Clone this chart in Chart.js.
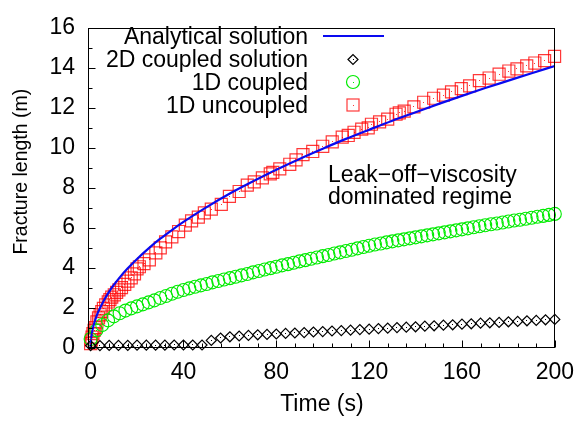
<!DOCTYPE html>
<html><head><meta charset="utf-8">
<script src="https://cdn.jsdelivr.net/npm/chart.js@4.4.0/dist/chart.umd.min.js"></script>
<style>html,body{margin:0;padding:0;background:#fff;overflow:hidden}canvas{display:block}</style>
</head><body>
<canvas id="c" width="585" height="422"></canvas>
<script>
// ---- data ----
const analyticalTime = [0,0.25,0.5,1,2,3,4,6,8,10,13,16,20,25,30,35,40,50,60,70,80,90,100,110,120,130,140,150,160,170,180,190,200];
const analyticalLength = [0,0.50,0.70,1.00,1.41,1.73,1.99,2.44,2.82,3.15,3.59,3.98,4.45,4.98,5.46,5.89,6.30,7.04,7.72,8.33,8.91,9.45,9.96,10.45,10.91,11.36,11.78,12.20,12.60,12.99,13.36,13.73,14.09];

const coupled2DTime = [0,4,8,12,16,20,24,28,32,36,40,44,48,52,56,60,64,68,72,76,80,84,88,92,96,100,104,108,112,116,120,124,128,132,136,140,144,148,152,156,160,164,168,172,176,180,184,188,192,196,200];
const coupled2DLength = [0.12,0.12,0.13,0.13,0.13,0.14,0.14,0.14,0.14,0.15,0.15,0.15,0.15,
  0.38,0.50,0.56,0.60,0.63,0.66,0.68,0.70,0.73,0.75,0.77,0.80,0.82,0.85,0.87,0.89,0.92,0.94,0.97,0.99,1.02,1.04,1.06,1.09,1.11,1.14,1.16,1.19,1.21,1.24,1.26,1.28,1.31,1.33,1.36,1.38,1.41,1.43];

const coupled1DTime = [0,2.5,5,7.5,10,12.5,15,17.5,20,22.5,25,27.5,30,32.5,35,37.5,40,42.5,45,47.5,50,52.5,55,57.5,60,62.5,65,67.5,70,72.5,75,77.5,80,82.5,85,87.5,90,92.5,95,97.5,100,102.5,105,107.5,110,112.5,115,117.5,120,122.5,125,127.5,130,132.5,135,137.5,140,142.5,145,147.5,150,152.5,155,157.5,160,162.5,165,167.5,170,172.5,175,177.5,180,182.5,185,187.5,190,192.5,195,197.5,200];
const coupled1DLength = [0.45,0.88,1.15,1.38,1.58,1.74,1.87,1.98,2.08,2.18,
  2.28,2.38,2.50,2.60,2.71,2.81,2.90,2.98,3.06,3.13,
  3.20,3.28,3.35,3.42,3.49,3.56,3.63,3.70,3.78,3.85,
  3.92,3.99,4.06,4.13,4.19,4.26,4.33,4.39,4.46,4.52,
  4.59,4.65,4.72,4.78,4.85,4.91,4.98,5.05,5.11,5.17,
  5.22,5.28,5.33,5.38,5.43,5.48,5.53,5.58,5.63,5.68,
  5.73,5.78,5.83,5.88,5.93,5.98,6.03,6.08,6.13,6.18,
  6.22,6.27,6.32,6.37,6.41,6.46,6.51,6.56,6.60,6.65,6.70];

const uncoupled1DTime = [0,0.3,0.6,1.0,1.5,2.0,2.7,3.4,4.1,4.8,5.5,6.5,7.6,8.3,9.1,10.2,11.2,12.2,13.3,14.7,16.1,17.5,18.9,20.0,21.0,23.0,25.3,28.1,30.0,32.3,35.0,37.9,40.8,43.5,46.4,49.0,52.0,56.3,59.8,64.0,67.5,70.5,74.0,77.4,78.5,81.5,85.8,88.5,91.5,95.7,100.0,104.1,108.4,111.0,113.5,116.8,119.6,121.0,124.5,128.0,131.6,133.0,135.1,139.3,143.5,147.8,152.0,155.5,159.7,163.3,167.5,171.7,176.0,180.2,183.7,187.9,191.4,195.6,199.9];
const uncoupled1DLength = [0.22,0.40,0.54,0.72,0.88,1.02,1.30,1.50,1.66,1.82,1.98,2.15,2.30,2.42,2.54,2.66,2.78,2.90,3.02,3.18,3.34,3.50,3.70,3.95,4.06,4.22,4.40,4.75,5.00,5.30,5.55,5.82,6.14,6.35,6.54,6.75,6.94,7.18,7.58,7.82,8.14,8.30,8.50,8.70,8.78,8.95,9.18,9.40,9.66,9.82,10.08,10.30,10.54,10.62,10.78,10.94,11.00,11.18,11.30,11.44,11.68,11.75,11.84,12.05,12.28,12.48,12.64,12.80,12.96,13.10,13.36,13.49,13.68,13.84,13.95,14.10,14.24,14.36,14.57];

const seriesLabels = ['Analytical solution','2D coupled solution','1D coupled','1D uncoupled'];
const annotationLines = ['Leak\u2212off\u2212viscosity','dominated regime'];
const xTickValues = [0,40,80,120,160,200];
const yTickValues = [0,2,4,6,8,10,12,14,16];
const xMinorStep = 8;
const yMinorStep = 1;
const xTitle = 'Time (s)';
const yTitle = 'Fracture length (m)';

// ---- chart ----
const FONT = "'Liberation Sans', Arial, Helvetica, sans-serif";
const FS = 23;
const COL_BLUE = '#0a0af0';
const COL_BLACK = '#000000';
const COL_GREEN = 'rgb(0,235,0)';
const COL_RED = 'rgba(255,0,0,0.78)';

function pts(t, v){ const n=Math.min(t.length,v.length); const o=[]; for(let i=0;i<n;i++) o.push({x:t[i],y:v[i]}); return o; }

const decor = {
  id:'decor',
  afterDatasetsDraw(chart){
    const ctx = chart.ctx, a = chart.chartArea;
    const xs = chart.scales.x, ys = chart.scales.y;
    ctx.save();
    chart.data.datasets.forEach((ds,i)=>{
      if(!ds.dotColor) return;
      ctx.fillStyle = ds.dotColor;
      chart.getDatasetMeta(i).data.forEach(el=>{ ctx.fillRect(Math.floor(el.x), Math.floor(el.y), 1, 1); });
    });
    ctx.strokeStyle = '#000'; ctx.lineWidth = 1;
    const L = Math.round(a.left)-0.5, R = Math.round(a.right)-0.5, T = Math.round(a.top)+0.5, B = Math.round(a.bottom)-0.5;
    ctx.strokeRect(L, T, R-L, B-T);
    ctx.beginPath();
    for(let v=0; v<=xs.max+1e-9; v+=xMinorStep){
      const px = Math.round(xs.getPixelForValue(v))+0.5;
      const len = xTickValues.includes(v) ? 7 : 4;
      ctx.moveTo(px,B); ctx.lineTo(px,B-len);
    }
    for(let v=0; v<=ys.max+1e-9; v+=yMinorStep){
      const py = Math.round(ys.getPixelForValue(v))+0.5;
      const len = yTickValues.includes(v) ? 7 : 4;
      ctx.moveTo(L,py); ctx.lineTo(L+len,py);
    }
    ctx.stroke();
    ctx.font = FS + 'px ' + FONT; ctx.fillStyle = '#000'; ctx.textAlign = 'right'; ctx.textBaseline = 'alphabetic';
    const baseY = [43.5, 66.5, 89.5, 112.5];
    seriesLabels.forEach((s,i)=>ctx.fillText(s, 308, baseY[i]));
    const sx = 353;
    ctx.strokeStyle = COL_BLUE; ctx.lineWidth = 2.2;
    ctx.beginPath(); ctx.moveTo(323, 36); ctx.lineTo(384, 36); ctx.stroke();
    ctx.strokeStyle = COL_BLACK; ctx.lineWidth = 1.2;
    ctx.beginPath(); const dy=59.5; ctx.moveTo(sx-5,dy); ctx.lineTo(sx,dy-5); ctx.lineTo(sx+5,dy); ctx.lineTo(sx,dy+5); ctx.closePath(); ctx.stroke();
    ctx.fillStyle = COL_BLACK; ctx.fillRect(sx, Math.floor(dy), 1, 1);
    ctx.strokeStyle = COL_GREEN; ctx.lineWidth = 1.2;
    ctx.beginPath(); ctx.arc(sx, 82, 6.5, 0, Math.PI*2); ctx.stroke();
    ctx.fillStyle = COL_GREEN; ctx.fillRect(sx, 82, 1, 1);
    ctx.strokeStyle = COL_RED; ctx.lineWidth = 1.2;
    ctx.strokeRect(sx-6, 105-6, 12, 12);
    ctx.fillStyle = COL_RED; ctx.fillRect(sx, 105, 1, 1);
    ctx.fillStyle = '#000'; ctx.textAlign = 'left';
    ctx.fillText(annotationLines[0], 328, 181.5);
    ctx.fillText(annotationLines[1], 328, 203.5);
    ctx.restore();
  }
};

new Chart(document.getElementById('c'), {
  type: 'scatter',
  data: { datasets: [
    { label: seriesLabels[0], data: pts(analyticalTime, analyticalLength), showLine: true, borderColor: COL_BLUE, borderWidth: 2.2, pointRadius: 0, cubicInterpolationMode: 'monotone', clip: false },
    { label: seriesLabels[1], data: pts(coupled2DTime, coupled2DLength), pointStyle: 'rectRot', pointRadius: 5, borderColor: COL_BLACK, backgroundColor: 'rgba(0,0,0,0)', borderWidth: 1.2, dotColor: COL_BLACK, clip: false },
    { label: seriesLabels[2], data: pts(coupled1DTime, coupled1DLength), pointStyle: 'circle', pointRadius: 6.5, borderColor: COL_GREEN, backgroundColor: 'rgba(0,0,0,0)', borderWidth: 1.1, dotColor: COL_GREEN, clip: false },
    { label: seriesLabels[3], data: pts(uncoupled1DTime, uncoupled1DLength), pointStyle: 'rect', pointRadius: 8.5, borderColor: COL_RED, backgroundColor: 'rgba(0,0,0,0)', borderWidth: 1.2, dotColor: COL_RED, clip: false }
  ]},
  options: {
    responsive: false, animation: false, devicePixelRatio: 1,
    layout: { padding: { left: 0, top: 14, right: 21, bottom: 0 } },
    plugins: { legend: { display: false }, tooltip: { enabled: false } },
    scales: {
      x: {
        type: 'linear', min: -0.7, max: 200,
        afterBuildTicks: s => { s.ticks = xTickValues.map(v => ({ value: v })); },
        afterFit: s => { s.height = 74; },
        grid: { display: false, drawTicks: false }, border: { display: false },
        ticks: { padding: 11, color: '#000', font: { family: FONT, size: FS }, maxRotation: 0, autoSkip: false },
        title: { display: true, text: xTitle, color: '#000', font: { family: FONT, size: FS }, padding: { top: 0, bottom: 4 } }
      },
      y: {
        type: 'linear', min: 0, max: 16,
        afterBuildTicks: s => { s.ticks = yTickValues.map(v => ({ value: v })); },
        afterFit: s => { s.width = 89; },
        grid: { display: false, drawTicks: false }, border: { display: false },
        ticks: { padding: 14, color: '#000', font: { family: FONT, size: FS }, autoSkip: false },
        title: { display: true, text: '      ' + yTitle, color: '#000', font: { family: FONT, size: 19.5 }, padding: { top: 10, bottom: 0 } }
      }
    }
  },
  plugins: [decor]
});
</script>
</body></html>
